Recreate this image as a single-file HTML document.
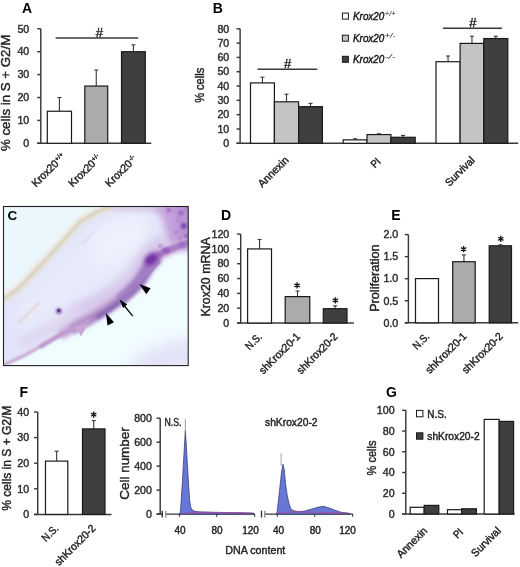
<!DOCTYPE html>
<html><head><meta charset="utf-8"><style>
html,body{margin:0;padding:0;background:#fff;}
body{width:520px;height:567px;overflow:hidden;}
svg{display:block;font-family:"Liberation Sans", sans-serif;will-change:transform;}
</style></head><body>
<svg width="520" height="567" viewBox="0 0 520 567">
<rect width="520" height="567" fill="#fff"/>
<text x="21.90" y="13.30" font-size="14" text-anchor="start" font-weight="bold" font-style="normal" fill="#000">A</text>
<line x1="40.80" y1="28.80" x2="40.80" y2="143.30" stroke="#383838" stroke-width="1.45"/>
<line x1="37.20" y1="143.30" x2="40.80" y2="143.30" stroke="#383838" stroke-width="1.45"/>
<text x="29.30" y="147.05" font-size="10.5" text-anchor="end" font-weight="normal" font-style="normal" fill="#2a2a2a" textLength="5.95" lengthAdjust="spacingAndGlyphs" stroke="#2a2a2a" stroke-width="0.4">0</text>
<line x1="37.20" y1="120.40" x2="40.80" y2="120.40" stroke="#383838" stroke-width="1.45"/>
<text x="29.30" y="124.15" font-size="10.5" text-anchor="end" font-weight="normal" font-style="normal" fill="#2a2a2a" textLength="11.90" lengthAdjust="spacingAndGlyphs" stroke="#2a2a2a" stroke-width="0.4">10</text>
<line x1="37.20" y1="97.50" x2="40.80" y2="97.50" stroke="#383838" stroke-width="1.45"/>
<text x="29.30" y="101.25" font-size="10.5" text-anchor="end" font-weight="normal" font-style="normal" fill="#2a2a2a" textLength="11.90" lengthAdjust="spacingAndGlyphs" stroke="#2a2a2a" stroke-width="0.4">20</text>
<line x1="37.20" y1="74.60" x2="40.80" y2="74.60" stroke="#383838" stroke-width="1.45"/>
<text x="29.30" y="78.35" font-size="10.5" text-anchor="end" font-weight="normal" font-style="normal" fill="#2a2a2a" textLength="11.90" lengthAdjust="spacingAndGlyphs" stroke="#2a2a2a" stroke-width="0.4">30</text>
<line x1="37.20" y1="51.70" x2="40.80" y2="51.70" stroke="#383838" stroke-width="1.45"/>
<text x="29.30" y="55.45" font-size="10.5" text-anchor="end" font-weight="normal" font-style="normal" fill="#2a2a2a" textLength="11.90" lengthAdjust="spacingAndGlyphs" stroke="#2a2a2a" stroke-width="0.4">40</text>
<line x1="37.20" y1="28.80" x2="40.80" y2="28.80" stroke="#383838" stroke-width="1.45"/>
<text x="29.30" y="32.55" font-size="10.5" text-anchor="end" font-weight="normal" font-style="normal" fill="#2a2a2a" textLength="11.90" lengthAdjust="spacingAndGlyphs" stroke="#2a2a2a" stroke-width="0.4">50</text>
<line x1="37.20" y1="143.30" x2="151.30" y2="143.30" stroke="#383838" stroke-width="1.45"/>
<line x1="59.40" y1="111.24" x2="59.40" y2="97.50" stroke="#383838" stroke-width="1.1"/>
<line x1="57.40" y1="97.50" x2="61.40" y2="97.50" stroke="#383838" stroke-width="1.1"/>
<rect x="47.30" y="111.24" width="24.20" height="32.06" fill="#ffffff" stroke="#1a1a1a" stroke-width="1.2"/>
<line x1="96.25" y1="86.05" x2="96.25" y2="70.02" stroke="#383838" stroke-width="1.1"/>
<line x1="94.25" y1="70.02" x2="98.25" y2="70.02" stroke="#383838" stroke-width="1.1"/>
<rect x="84.80" y="86.05" width="22.90" height="57.25" fill="#ababab" stroke="#1a1a1a" stroke-width="1.2"/>
<line x1="133.40" y1="51.70" x2="133.40" y2="44.83" stroke="#383838" stroke-width="1.1"/>
<line x1="131.40" y1="44.83" x2="135.40" y2="44.83" stroke="#383838" stroke-width="1.1"/>
<rect x="121.50" y="51.70" width="23.80" height="91.60" fill="#3f3f3f" stroke="#1a1a1a" stroke-width="1.2"/>
<line x1="55.60" y1="38.00" x2="138.20" y2="38.00" stroke="#383838" stroke-width="1.4"/>
<text x="99.30" y="37.00" font-size="13" text-anchor="middle" font-weight="normal" font-style="normal" fill="#1a1a1a" stroke="#1a1a1a" stroke-width="0.4">#</text>
<text transform="translate(9.90,92.90) rotate(-90)" font-size="13" text-anchor="middle" font-weight="normal" font-style="normal" fill="#222" textLength="116.3" lengthAdjust="spacingAndGlyphs" stroke="#222" stroke-width="0.4">% cells in S + G2/M</text>
<g transform="translate(36.00,187.60) rotate(-45)" stroke="#222" stroke-width="0.4"><text x="0" y="0" font-size="10.8" fill="#222" textLength="32.9" lengthAdjust="spacingAndGlyphs">Krox20</text><text x="33.4" y="-3.6" font-size="6.4" fill="#222">+/+</text></g>
<g transform="translate(72.80,187.60) rotate(-45)" stroke="#222" stroke-width="0.4"><text x="0" y="0" font-size="10.8" fill="#222" textLength="32.9" lengthAdjust="spacingAndGlyphs">Krox20</text><text x="33.4" y="-3.6" font-size="6.4" fill="#222">+/-</text></g>
<g transform="translate(109.60,187.60) rotate(-45)" stroke="#222" stroke-width="0.4"><text x="0" y="0" font-size="10.8" fill="#222" textLength="32.9" lengthAdjust="spacingAndGlyphs">Krox20</text><text x="33.4" y="-3.6" font-size="6.4" fill="#222">-/-</text></g>
<text x="212.80" y="13.00" font-size="14" text-anchor="start" font-weight="bold" font-style="normal" fill="#000">B</text>
<line x1="240.10" y1="28.80" x2="240.10" y2="143.30" stroke="#383838" stroke-width="1.45"/>
<line x1="236.50" y1="143.30" x2="240.10" y2="143.30" stroke="#383838" stroke-width="1.45"/>
<text x="229.30" y="147.05" font-size="10.5" text-anchor="end" font-weight="normal" font-style="normal" fill="#2a2a2a" textLength="5.95" lengthAdjust="spacingAndGlyphs" stroke="#2a2a2a" stroke-width="0.4">0</text>
<line x1="236.50" y1="128.99" x2="240.10" y2="128.99" stroke="#383838" stroke-width="1.45"/>
<text x="229.30" y="132.74" font-size="10.5" text-anchor="end" font-weight="normal" font-style="normal" fill="#2a2a2a" textLength="11.90" lengthAdjust="spacingAndGlyphs" stroke="#2a2a2a" stroke-width="0.4">10</text>
<line x1="236.50" y1="114.68" x2="240.10" y2="114.68" stroke="#383838" stroke-width="1.45"/>
<text x="229.30" y="118.43" font-size="10.5" text-anchor="end" font-weight="normal" font-style="normal" fill="#2a2a2a" textLength="11.90" lengthAdjust="spacingAndGlyphs" stroke="#2a2a2a" stroke-width="0.4">20</text>
<line x1="236.50" y1="100.36" x2="240.10" y2="100.36" stroke="#383838" stroke-width="1.45"/>
<text x="229.30" y="104.11" font-size="10.5" text-anchor="end" font-weight="normal" font-style="normal" fill="#2a2a2a" textLength="11.90" lengthAdjust="spacingAndGlyphs" stroke="#2a2a2a" stroke-width="0.4">30</text>
<line x1="236.50" y1="86.05" x2="240.10" y2="86.05" stroke="#383838" stroke-width="1.45"/>
<text x="229.30" y="89.80" font-size="10.5" text-anchor="end" font-weight="normal" font-style="normal" fill="#2a2a2a" textLength="11.90" lengthAdjust="spacingAndGlyphs" stroke="#2a2a2a" stroke-width="0.4">40</text>
<line x1="236.50" y1="71.74" x2="240.10" y2="71.74" stroke="#383838" stroke-width="1.45"/>
<text x="229.30" y="75.49" font-size="10.5" text-anchor="end" font-weight="normal" font-style="normal" fill="#2a2a2a" textLength="11.90" lengthAdjust="spacingAndGlyphs" stroke="#2a2a2a" stroke-width="0.4">50</text>
<line x1="236.50" y1="57.42" x2="240.10" y2="57.42" stroke="#383838" stroke-width="1.45"/>
<text x="229.30" y="61.17" font-size="10.5" text-anchor="end" font-weight="normal" font-style="normal" fill="#2a2a2a" textLength="11.90" lengthAdjust="spacingAndGlyphs" stroke="#2a2a2a" stroke-width="0.4">60</text>
<line x1="236.50" y1="43.11" x2="240.10" y2="43.11" stroke="#383838" stroke-width="1.45"/>
<text x="229.30" y="46.86" font-size="10.5" text-anchor="end" font-weight="normal" font-style="normal" fill="#2a2a2a" textLength="11.90" lengthAdjust="spacingAndGlyphs" stroke="#2a2a2a" stroke-width="0.4">70</text>
<line x1="236.50" y1="28.80" x2="240.10" y2="28.80" stroke="#383838" stroke-width="1.45"/>
<text x="229.30" y="32.55" font-size="10.5" text-anchor="end" font-weight="normal" font-style="normal" fill="#2a2a2a" textLength="11.90" lengthAdjust="spacingAndGlyphs" stroke="#2a2a2a" stroke-width="0.4">80</text>
<line x1="236.50" y1="143.30" x2="518.20" y2="143.30" stroke="#383838" stroke-width="1.45"/>
<line x1="262.45" y1="82.90" x2="262.45" y2="77.18" stroke="#383838" stroke-width="1.1"/>
<line x1="260.45" y1="77.18" x2="264.45" y2="77.18" stroke="#383838" stroke-width="1.1"/>
<line x1="286.50" y1="101.79" x2="286.50" y2="94.21" stroke="#383838" stroke-width="1.1"/>
<line x1="284.50" y1="94.21" x2="288.50" y2="94.21" stroke="#383838" stroke-width="1.1"/>
<line x1="310.50" y1="106.66" x2="310.50" y2="103.37" stroke="#383838" stroke-width="1.1"/>
<line x1="308.50" y1="103.37" x2="312.50" y2="103.37" stroke="#383838" stroke-width="1.1"/>
<rect x="250.50" y="82.90" width="23.90" height="60.40" fill="#ffffff" stroke="#1a1a1a" stroke-width="1.2"/>
<rect x="274.40" y="101.79" width="24.20" height="41.51" fill="#c4c4c4" stroke="#1a1a1a" stroke-width="1.2"/>
<rect x="298.60" y="106.66" width="23.80" height="36.64" fill="#3f3f3f" stroke="#1a1a1a" stroke-width="1.2"/>
<line x1="355.10" y1="139.87" x2="355.10" y2="138.72" stroke="#383838" stroke-width="1.1"/>
<line x1="353.10" y1="138.72" x2="357.10" y2="138.72" stroke="#383838" stroke-width="1.1"/>
<line x1="378.95" y1="134.57" x2="378.95" y2="133.85" stroke="#383838" stroke-width="1.1"/>
<line x1="376.95" y1="133.85" x2="380.95" y2="133.85" stroke="#383838" stroke-width="1.1"/>
<line x1="403.05" y1="137.29" x2="403.05" y2="135.43" stroke="#383838" stroke-width="1.1"/>
<line x1="401.05" y1="135.43" x2="405.05" y2="135.43" stroke="#383838" stroke-width="1.1"/>
<rect x="343.20" y="139.87" width="23.80" height="3.44" fill="#ffffff" stroke="#1a1a1a" stroke-width="1.2"/>
<rect x="367.00" y="134.57" width="23.90" height="8.73" fill="#c4c4c4" stroke="#1a1a1a" stroke-width="1.2"/>
<rect x="390.90" y="137.29" width="24.30" height="6.01" fill="#3f3f3f" stroke="#1a1a1a" stroke-width="1.2"/>
<line x1="448.05" y1="61.72" x2="448.05" y2="55.99" stroke="#383838" stroke-width="1.1"/>
<line x1="446.05" y1="55.99" x2="450.05" y2="55.99" stroke="#383838" stroke-width="1.1"/>
<line x1="471.95" y1="43.40" x2="471.95" y2="36.24" stroke="#383838" stroke-width="1.1"/>
<line x1="469.95" y1="36.24" x2="473.95" y2="36.24" stroke="#383838" stroke-width="1.1"/>
<line x1="495.80" y1="38.53" x2="495.80" y2="36.24" stroke="#383838" stroke-width="1.1"/>
<line x1="493.80" y1="36.24" x2="497.80" y2="36.24" stroke="#383838" stroke-width="1.1"/>
<rect x="436.00" y="61.72" width="24.10" height="81.58" fill="#ffffff" stroke="#1a1a1a" stroke-width="1.2"/>
<rect x="460.10" y="43.40" width="23.70" height="99.90" fill="#c4c4c4" stroke="#1a1a1a" stroke-width="1.2"/>
<rect x="483.80" y="38.53" width="24.00" height="104.77" fill="#3f3f3f" stroke="#1a1a1a" stroke-width="1.2"/>
<line x1="257.60" y1="69.30" x2="317.30" y2="69.30" stroke="#383838" stroke-width="1.4"/>
<text x="287.60" y="67.60" font-size="13" text-anchor="middle" font-weight="normal" font-style="normal" fill="#1a1a1a" stroke="#1a1a1a" stroke-width="0.4">#</text>
<line x1="443.00" y1="28.20" x2="502.00" y2="28.20" stroke="#383838" stroke-width="1.4"/>
<text x="472.80" y="26.70" font-size="13" text-anchor="middle" font-weight="normal" font-style="normal" fill="#1a1a1a" stroke="#1a1a1a" stroke-width="0.4">#</text>
<text transform="translate(204.20,85.30) rotate(-90)" font-size="13" text-anchor="middle" font-weight="normal" font-style="normal" fill="#222" textLength="35" lengthAdjust="spacingAndGlyphs" stroke="#222" stroke-width="0.4">% cells</text>
<text transform="translate(289.30,160.80) rotate(-45)" font-size="10.8" text-anchor="end" font-weight="normal" font-style="normal" fill="#222" textLength="38.3" lengthAdjust="spacingAndGlyphs" stroke="#222" stroke-width="0.4">Annexin</text>
<text transform="translate(381.30,162.30) rotate(-45)" font-size="10.8" text-anchor="end" font-weight="normal" font-style="normal" fill="#222" textLength="8.9" lengthAdjust="spacingAndGlyphs" stroke="#222" stroke-width="0.4">PI</text>
<text transform="translate(475.30,161.00) rotate(-45)" font-size="10.8" text-anchor="end" font-weight="normal" font-style="normal" fill="#222" textLength="36.6" lengthAdjust="spacingAndGlyphs" stroke="#222" stroke-width="0.4">Survival</text>
<rect x="342.4" y="13.10" width="6" height="6" fill="#ffffff" stroke="#1a1a1a" stroke-width="1"/>
<text x="353.00" y="20.00" font-size="11" text-anchor="start" font-weight="normal" font-style="italic" fill="#111" textLength="31.3" lengthAdjust="spacingAndGlyphs" stroke="#111" stroke-width="0.4">Krox20</text>
<text x="384.8" y="16.00" font-size="7" font-style="italic" fill="#222" textLength="10.8" lengthAdjust="spacingAndGlyphs">+/+</text>
<rect x="342.4" y="35.20" width="6" height="6" fill="#c4c4c4" stroke="#1a1a1a" stroke-width="1"/>
<text x="353.00" y="42.10" font-size="11" text-anchor="start" font-weight="normal" font-style="italic" fill="#111" textLength="31.3" lengthAdjust="spacingAndGlyphs" stroke="#111" stroke-width="0.4">Krox20</text>
<text x="384.8" y="38.10" font-size="7" font-style="italic" fill="#222" textLength="10.8" lengthAdjust="spacingAndGlyphs">+/-</text>
<rect x="342.4" y="56.30" width="6" height="6" fill="#3f3f3f" stroke="#1a1a1a" stroke-width="1"/>
<text x="353.00" y="63.20" font-size="11" text-anchor="start" font-weight="normal" font-style="italic" fill="#111" textLength="31.3" lengthAdjust="spacingAndGlyphs" stroke="#111" stroke-width="0.4">Krox20</text>
<text x="384.8" y="59.20" font-size="7" font-style="italic" fill="#222" textLength="10.8" lengthAdjust="spacingAndGlyphs">-/-</text>
<g>
<defs>
<clipPath id="cclip"><rect x="3.5" y="206.5" width="184.7" height="159.1"/></clipPath>
<filter id="b05" x="-20%" y="-20%" width="140%" height="140%"><feGaussianBlur stdDeviation="0.6"/></filter>
<filter id="b1" x="-20%" y="-20%" width="140%" height="140%"><feGaussianBlur stdDeviation="1.1"/></filter>
<filter id="b2" x="-20%" y="-20%" width="140%" height="140%"><feGaussianBlur stdDeviation="2"/></filter>
<filter id="b3" x="-30%" y="-30%" width="160%" height="160%"><feGaussianBlur stdDeviation="3.5"/></filter>
<filter id="b6" x="-40%" y="-40%" width="180%" height="180%"><feGaussianBlur stdDeviation="7"/></filter>
</defs>
<g clip-path="url(#cclip)">
<rect x="0" y="200" width="195" height="170" fill="#f1fcff"/>
<!-- upper-left exterior light cyan -->
<path d="M -10 200 L 130 200 C 110 210, 95 214, 80 222 C 60 245, 40 266, 18 289 L -10 310 Z" fill="#eaf7fd" filter="url(#b2)"/>
<!-- band interior (periwinkle) -->
<path d="M -10 306 L 18 290 C 40 267, 60 246, 80 223 C 95 215, 110 209, 130 205 L 160 204 C 165 225, 168 238, 165 248 C 150 255, 145 275, 135 288 C 115 303, 95 314, 76 324 C 58 335, 40 349, 25 358 L -10 370 Z" fill="#e2e5f9" filter="url(#b1)"/>
<!-- lighter core of interior -->
<path d="M 20 300 C 50 270, 80 240, 110 222 C 125 214, 140 212, 150 216 C 150 240, 130 262, 100 285 C 70 305, 40 322, 15 330 Z" fill="#e9ebfb" filter="url(#b6)"/>
<ellipse cx="118" cy="240" rx="32" ry="20" transform="rotate(-35 118 240)" fill="#eef0fc" filter="url(#b6)"/>
<!-- pinkish zone above purple band -->
<path d="M 70 316 C 80 311, 98 302, 112 293 C 128 284, 136 274, 144 260 C 150 250, 156 245, 166 241" fill="none" stroke="#d8cbec" stroke-width="16" filter="url(#b3)"/>
<path d="M 20 345 C 35 337, 50 329, 62 322 C 70 318, 76 315, 82 312" fill="none" stroke="#dfd6f0" stroke-width="10" filter="url(#b3)"/>
<!-- top strip lavender-pink -->
<path d="M 100 204 L 170 204 L 170 213 L 100 210 Z" fill="#d9cde8" filter="url(#b2)"/>
<!-- top-right purple cells region -->
<path d="M 150 204 L 195 204 L 195 245 C 185 243, 178 246, 170 247 C 170 236, 166 222, 158 212 Z" fill="#cdb0e0" filter="url(#b3)"/>
<path d="M 160 204 L 195 204 L 195 252 C 180 250, 172 245, 168 240 C 166 228, 165 214, 160 204 Z" fill="#c4a1dc" filter="url(#b3)"/>
<path d="M 172 204 L 195 204 L 195 243 L 180 240 C 177 228, 176 215, 172 204 Z" fill="#b894d4" filter="url(#b2)"/>
<!-- purple lower band: outer soft -->
<path d="M 60 336 C 66 331, 70 328, 78 324 C 92 316, 104 309, 114 302 C 126 294, 135 287, 142 276 C 147 266, 150 260, 158 255 C 168 250, 178 246, 195 240" fill="none" stroke="#cdb3dc" stroke-width="11" filter="url(#b2)"/>
<!-- mid band -->
<path d="M 70 328 C 85 320, 100 312, 112 303 C 125 294, 134 287, 141 277 C 146 268, 150 261, 158 256" fill="none" stroke="#a886c4" stroke-width="9" transform="translate(1.5,2)" filter="url(#b2)"/>
<path d="M 95 315 C 105 309, 115 302, 124 295 C 132 289, 138 283, 142 276" fill="none" stroke="#8c6eb2" stroke-width="4.5" transform="translate(1.5,2.5)" filter="url(#b1)"/>
<!-- lower-left pink part -->
<path d="M 2 366 C 20 358, 35 350, 50 341 C 62 334, 76 327, 90 321" fill="none" stroke="#c9aad3" stroke-width="3.2" filter="url(#b1)"/>
<path d="M 40 347 C 48 342, 56 337, 62 334 C 72 329, 80 325, 90 321" fill="none" stroke="#bf9ace" stroke-width="4" filter="url(#b1)"/>
<path d="M 74 327 C 78 331, 80 334, 81 336.5 L 88 324 Z" fill="#c8a8d4" filter="url(#b05)"/>
<path d="M 118 298 C 128 290, 136 282, 142 272 C 146 265, 149 261, 153 258" fill="none" stroke="#a07ec2" stroke-width="10" transform="translate(1.5,2)" filter="url(#b2)"/>
<!-- right part band -->
<path d="M 158 255 C 168 250, 178 246, 195 240" fill="none" stroke="#a97ec8" stroke-width="6" filter="url(#b1)"/>
<!-- dark blob -->
<ellipse cx="152" cy="259" rx="9" ry="6" fill="#8a4cb0" filter="url(#b2)" transform="rotate(-35 152 259)"/>
<ellipse cx="151" cy="259.5" rx="5.5" ry="3.5" fill="#7436a2" filter="url(#b1)" transform="rotate(-35 151 259.5)"/>
<ellipse cx="166" cy="250.5" rx="4" ry="3" fill="#9a60bd" filter="url(#b1)"/>
<ellipse cx="182" cy="245" rx="4" ry="3" fill="#a070c4" filter="url(#b1)"/>
<!-- membrane line -->
<path d="M 160 262 C 151 272, 140 286, 121 300" fill="none" stroke="#8a70b4" stroke-width="0.9" filter="url(#b05)"/>
<!-- cells spots -->
<circle cx="183.7" cy="226" r="3" fill="#8048b4" filter="url(#b1)"/>
<circle cx="178" cy="220" r="2.2" fill="#b48ad2" filter="url(#b1)"/>
<circle cx="174" cy="212" r="2" fill="#b996d6" filter="url(#b1)"/>
<circle cx="186" cy="208" r="2.2" fill="#a77ccb" filter="url(#b1)"/>
<circle cx="180" cy="238" r="2.2" fill="#b088d0" filter="url(#b1)"/>
<circle cx="168.7" cy="210" r="2.5" fill="#a274c8" filter="url(#b1)"/>
<circle cx="181" cy="213" r="2.5" fill="#9a66c2" filter="url(#b1)"/>
<circle cx="186" cy="236" r="2.2" fill="#9a66c2" filter="url(#b1)"/>
<circle cx="176" cy="232" r="2" fill="#ad82cd" filter="url(#b1)"/>
<circle cx="160" cy="246" r="2" fill="#b28ad0" filter="url(#b1)"/>
<!-- tan streak -->
<path d="M 0 302 C 8 296, 14 292, 20 287 C 40 266, 60 245, 80 222 C 92 214, 100 210, 112 206" fill="none" stroke="#f4f6f6" stroke-width="4" transform="translate(-3,-2.5)" filter="url(#b1)"/>
<path d="M 0 302 C 8 296, 14 292, 20 287 C 40 266, 60 245, 80 222 C 92 214, 100 210, 112 206" fill="none" stroke="#e6e2da" stroke-width="8" filter="url(#b2)"/>
<path d="M 0 302 C 8 296, 14 292, 20 287 C 40 266, 60 245, 80 222 C 92 214, 100 210, 112 206" fill="none" stroke="#d8cebd" stroke-width="2.6" filter="url(#b1)"/>
<path d="M 18 323 C 26 316, 33 309, 40 302" fill="none" stroke="#ddd3cf" stroke-width="2.2" filter="url(#b1)"/>
<path d="M 82 244 C 86 240, 90 236, 94 232" fill="none" stroke="#dcd6dc" stroke-width="1.6" filter="url(#b1)"/>
<!-- small spot -->
<circle cx="58.8" cy="311" r="3.2" fill="#9a80c0" filter="url(#b1)"/>
<circle cx="58.8" cy="310.5" r="1.8" fill="#5e3e8a" filter="url(#b05)"/>
<!-- bottom-right haze -->
<ellipse cx="172" cy="358" rx="45" ry="16" transform="rotate(-15 172 358)" fill="#e4e3f7" filter="url(#b6)"/>
</g>
<rect x="3.5" y="206.5" width="184.7" height="159.1" fill="none" stroke="#222" stroke-width="1.1"/>
<!-- arrowheads -->
<path d="M 139.3 283.9 L 150.6 288.2 L 146.3 294.2 Z" fill="#000"/>
<path d="M 105.9 313.0 L 114.0 322.2 L 107.5 325.4 Z" fill="#000"/>
<!-- arrow -->
<line x1="132.8" y1="316.2" x2="122" y2="303" stroke="#000" stroke-width="1.3"/>
<path d="M 119.4 299.5 L 127.2 304.2 L 123.2 308.0 Z" fill="#000"/>
</g>
<text x="7.50" y="219.80" font-size="13.5" text-anchor="start" font-weight="bold" font-style="normal" fill="#000">C</text>
<text x="220.90" y="219.70" font-size="14" text-anchor="start" font-weight="bold" font-style="normal" fill="#000">D</text>
<line x1="240.70" y1="234.10" x2="240.70" y2="323.00" stroke="#383838" stroke-width="1.45"/>
<line x1="237.10" y1="323.00" x2="240.70" y2="323.00" stroke="#383838" stroke-width="1.45"/>
<text x="229.30" y="326.75" font-size="10.5" text-anchor="end" font-weight="normal" font-style="normal" fill="#2a2a2a" textLength="5.95" lengthAdjust="spacingAndGlyphs" stroke="#2a2a2a" stroke-width="0.4">0</text>
<line x1="237.10" y1="308.18" x2="240.70" y2="308.18" stroke="#383838" stroke-width="1.45"/>
<text x="229.30" y="311.93" font-size="10.5" text-anchor="end" font-weight="normal" font-style="normal" fill="#2a2a2a" textLength="11.90" lengthAdjust="spacingAndGlyphs" stroke="#2a2a2a" stroke-width="0.4">20</text>
<line x1="237.10" y1="293.37" x2="240.70" y2="293.37" stroke="#383838" stroke-width="1.45"/>
<text x="229.30" y="297.12" font-size="10.5" text-anchor="end" font-weight="normal" font-style="normal" fill="#2a2a2a" textLength="11.90" lengthAdjust="spacingAndGlyphs" stroke="#2a2a2a" stroke-width="0.4">40</text>
<line x1="237.10" y1="278.55" x2="240.70" y2="278.55" stroke="#383838" stroke-width="1.45"/>
<text x="229.30" y="282.30" font-size="10.5" text-anchor="end" font-weight="normal" font-style="normal" fill="#2a2a2a" textLength="11.90" lengthAdjust="spacingAndGlyphs" stroke="#2a2a2a" stroke-width="0.4">60</text>
<line x1="237.10" y1="263.73" x2="240.70" y2="263.73" stroke="#383838" stroke-width="1.45"/>
<text x="229.30" y="267.48" font-size="10.5" text-anchor="end" font-weight="normal" font-style="normal" fill="#2a2a2a" textLength="11.90" lengthAdjust="spacingAndGlyphs" stroke="#2a2a2a" stroke-width="0.4">80</text>
<line x1="237.10" y1="248.92" x2="240.70" y2="248.92" stroke="#383838" stroke-width="1.45"/>
<text x="229.30" y="252.67" font-size="10.5" text-anchor="end" font-weight="normal" font-style="normal" fill="#2a2a2a" textLength="17.85" lengthAdjust="spacingAndGlyphs" stroke="#2a2a2a" stroke-width="0.4">100</text>
<line x1="237.10" y1="234.10" x2="240.70" y2="234.10" stroke="#383838" stroke-width="1.45"/>
<text x="229.30" y="237.85" font-size="10.5" text-anchor="end" font-weight="normal" font-style="normal" fill="#2a2a2a" textLength="17.85" lengthAdjust="spacingAndGlyphs" stroke="#2a2a2a" stroke-width="0.4">120</text>
<line x1="237.10" y1="323.00" x2="353.90" y2="323.00" stroke="#383838" stroke-width="1.45"/>
<line x1="259.55" y1="248.92" x2="259.55" y2="239.50" stroke="#383838" stroke-width="1.1"/>
<line x1="257.55" y1="239.50" x2="261.55" y2="239.50" stroke="#383838" stroke-width="1.1"/>
<rect x="247.60" y="248.92" width="23.90" height="74.08" fill="#ffffff" stroke="#1a1a1a" stroke-width="1.2"/>
<line x1="297.50" y1="296.60" x2="297.50" y2="291.00" stroke="#383838" stroke-width="1.1"/>
<line x1="295.50" y1="291.00" x2="299.50" y2="291.00" stroke="#383838" stroke-width="1.1"/>
<rect x="285.20" y="296.60" width="24.60" height="26.40" fill="#ababab" stroke="#1a1a1a" stroke-width="1.2"/>
<line x1="335.15" y1="308.70" x2="335.15" y2="305.80" stroke="#383838" stroke-width="1.1"/>
<line x1="333.15" y1="305.80" x2="337.15" y2="305.80" stroke="#383838" stroke-width="1.1"/>
<rect x="323.30" y="308.70" width="23.70" height="14.30" fill="#3f3f3f" stroke="#1a1a1a" stroke-width="1.2"/>
<path d="M 297.10 288.50 L 297.10 282.30 M 294.42 286.95 L 299.78 283.85 M 294.42 283.85 L 299.78 286.95 " stroke="#1a1a1a" stroke-width="1.35" fill="none"/>
<path d="M 335.40 303.50 L 335.40 297.30 M 332.72 301.95 L 338.08 298.85 M 332.72 298.85 L 338.08 301.95 " stroke="#1a1a1a" stroke-width="1.35" fill="none"/>
<text transform="translate(210.40,276.90) rotate(-90)" font-size="12.5" text-anchor="middle" font-weight="normal" font-style="normal" fill="#222" textLength="79.3" lengthAdjust="spacingAndGlyphs" stroke="#222" stroke-width="0.4">Krox20 mRNA</text>
<text transform="translate(262.70,337.30) rotate(-45)" font-size="10.8" text-anchor="end" font-weight="normal" font-style="normal" fill="#222" textLength="18.6" lengthAdjust="spacingAndGlyphs" stroke="#222" stroke-width="0.4">N.S.</text>
<text transform="translate(300.70,337.30) rotate(-45)" font-size="10.8" text-anchor="end" font-weight="normal" font-style="normal" fill="#222" textLength="52.8" lengthAdjust="spacingAndGlyphs" stroke="#222" stroke-width="0.4">shKrox20-1</text>
<text transform="translate(338.40,337.30) rotate(-45)" font-size="10.8" text-anchor="end" font-weight="normal" font-style="normal" fill="#222" textLength="52.8" lengthAdjust="spacingAndGlyphs" stroke="#222" stroke-width="0.4">shKrox20-2</text>
<text x="391.20" y="219.90" font-size="14" text-anchor="start" font-weight="bold" font-style="normal" fill="#000">E</text>
<line x1="408.40" y1="234.60" x2="408.40" y2="322.80" stroke="#383838" stroke-width="1.45"/>
<line x1="404.80" y1="322.80" x2="408.40" y2="322.80" stroke="#383838" stroke-width="1.45"/>
<text x="398.30" y="326.55" font-size="10.5" text-anchor="end" font-weight="normal" font-style="normal" fill="#2a2a2a" textLength="14.90" lengthAdjust="spacingAndGlyphs" stroke="#2a2a2a" stroke-width="0.4">0.0</text>
<line x1="404.80" y1="300.75" x2="408.40" y2="300.75" stroke="#383838" stroke-width="1.45"/>
<text x="398.30" y="304.50" font-size="10.5" text-anchor="end" font-weight="normal" font-style="normal" fill="#2a2a2a" textLength="14.90" lengthAdjust="spacingAndGlyphs" stroke="#2a2a2a" stroke-width="0.4">0.5</text>
<line x1="404.80" y1="278.70" x2="408.40" y2="278.70" stroke="#383838" stroke-width="1.45"/>
<text x="398.30" y="282.45" font-size="10.5" text-anchor="end" font-weight="normal" font-style="normal" fill="#2a2a2a" textLength="14.90" lengthAdjust="spacingAndGlyphs" stroke="#2a2a2a" stroke-width="0.4">1.0</text>
<line x1="404.80" y1="256.65" x2="408.40" y2="256.65" stroke="#383838" stroke-width="1.45"/>
<text x="398.30" y="260.40" font-size="10.5" text-anchor="end" font-weight="normal" font-style="normal" fill="#2a2a2a" textLength="14.90" lengthAdjust="spacingAndGlyphs" stroke="#2a2a2a" stroke-width="0.4">1.5</text>
<line x1="404.80" y1="234.60" x2="408.40" y2="234.60" stroke="#383838" stroke-width="1.45"/>
<text x="398.30" y="238.35" font-size="10.5" text-anchor="end" font-weight="normal" font-style="normal" fill="#2a2a2a" textLength="14.90" lengthAdjust="spacingAndGlyphs" stroke="#2a2a2a" stroke-width="0.4">2.0</text>
<line x1="404.80" y1="322.80" x2="518.20" y2="322.80" stroke="#383838" stroke-width="1.45"/>
<rect x="415.50" y="278.60" width="23.00" height="44.20" fill="#ffffff" stroke="#1a1a1a" stroke-width="1.2"/>
<line x1="463.95" y1="261.70" x2="463.95" y2="254.90" stroke="#383838" stroke-width="1.1"/>
<line x1="461.95" y1="254.90" x2="465.95" y2="254.90" stroke="#383838" stroke-width="1.1"/>
<rect x="452.70" y="261.70" width="22.50" height="61.10" fill="#ababab" stroke="#1a1a1a" stroke-width="1.2"/>
<line x1="500.35" y1="245.80" x2="500.35" y2="244.80" stroke="#383838" stroke-width="1.1"/>
<line x1="498.35" y1="244.80" x2="502.35" y2="244.80" stroke="#383838" stroke-width="1.1"/>
<rect x="489.20" y="245.80" width="22.30" height="77.00" fill="#3f3f3f" stroke="#1a1a1a" stroke-width="1.2"/>
<path d="M 463.60 252.20 L 463.60 246.00 M 460.92 250.65 L 466.28 247.55 M 460.92 247.55 L 466.28 250.65 " stroke="#1a1a1a" stroke-width="1.35" fill="none"/>
<path d="M 500.80 241.90 L 500.80 235.70 M 498.12 240.35 L 503.48 237.25 M 498.12 237.25 L 503.48 240.35 " stroke="#1a1a1a" stroke-width="1.35" fill="none"/>
<text transform="translate(379.00,278.10) rotate(-90)" font-size="12.5" text-anchor="middle" font-weight="normal" font-style="normal" fill="#222" textLength="67.5" lengthAdjust="spacingAndGlyphs" stroke="#222" stroke-width="0.4">Proliferation</text>
<text transform="translate(430.20,337.00) rotate(-45)" font-size="10.8" text-anchor="end" font-weight="normal" font-style="normal" fill="#222" textLength="18.6" lengthAdjust="spacingAndGlyphs" stroke="#222" stroke-width="0.4">N.S.</text>
<text transform="translate(467.20,337.00) rotate(-45)" font-size="10.8" text-anchor="end" font-weight="normal" font-style="normal" fill="#222" textLength="52.8" lengthAdjust="spacingAndGlyphs" stroke="#222" stroke-width="0.4">shKrox20-1</text>
<text transform="translate(503.50,337.00) rotate(-45)" font-size="10.8" text-anchor="end" font-weight="normal" font-style="normal" fill="#222" textLength="52.8" lengthAdjust="spacingAndGlyphs" stroke="#222" stroke-width="0.4">shKrox20-2</text>
<text x="19.50" y="396.60" font-size="14" text-anchor="start" font-weight="bold" font-style="normal" fill="#000">F</text>
<line x1="37.70" y1="412.00" x2="37.70" y2="514.40" stroke="#383838" stroke-width="1.45"/>
<line x1="34.10" y1="514.40" x2="37.70" y2="514.40" stroke="#383838" stroke-width="1.45"/>
<text x="29.20" y="518.15" font-size="10.5" text-anchor="end" font-weight="normal" font-style="normal" fill="#2a2a2a" textLength="5.95" lengthAdjust="spacingAndGlyphs" stroke="#2a2a2a" stroke-width="0.4">0</text>
<line x1="34.10" y1="488.80" x2="37.70" y2="488.80" stroke="#383838" stroke-width="1.45"/>
<text x="29.20" y="492.55" font-size="10.5" text-anchor="end" font-weight="normal" font-style="normal" fill="#2a2a2a" textLength="11.90" lengthAdjust="spacingAndGlyphs" stroke="#2a2a2a" stroke-width="0.4">10</text>
<line x1="34.10" y1="463.20" x2="37.70" y2="463.20" stroke="#383838" stroke-width="1.45"/>
<text x="29.20" y="466.95" font-size="10.5" text-anchor="end" font-weight="normal" font-style="normal" fill="#2a2a2a" textLength="11.90" lengthAdjust="spacingAndGlyphs" stroke="#2a2a2a" stroke-width="0.4">20</text>
<line x1="34.10" y1="437.60" x2="37.70" y2="437.60" stroke="#383838" stroke-width="1.45"/>
<text x="29.20" y="441.35" font-size="10.5" text-anchor="end" font-weight="normal" font-style="normal" fill="#2a2a2a" textLength="11.90" lengthAdjust="spacingAndGlyphs" stroke="#2a2a2a" stroke-width="0.4">30</text>
<line x1="34.10" y1="412.00" x2="37.70" y2="412.00" stroke="#383838" stroke-width="1.45"/>
<text x="29.20" y="415.75" font-size="10.5" text-anchor="end" font-weight="normal" font-style="normal" fill="#2a2a2a" textLength="11.90" lengthAdjust="spacingAndGlyphs" stroke="#2a2a2a" stroke-width="0.4">40</text>
<line x1="34.10" y1="514.40" x2="111.50" y2="514.40" stroke="#383838" stroke-width="1.45"/>
<line x1="56.65" y1="461.10" x2="56.65" y2="451.20" stroke="#383838" stroke-width="1.1"/>
<line x1="54.65" y1="451.20" x2="58.65" y2="451.20" stroke="#383838" stroke-width="1.1"/>
<rect x="45.50" y="461.10" width="22.30" height="53.30" fill="#ffffff" stroke="#1a1a1a" stroke-width="1.2"/>
<line x1="93.75" y1="428.90" x2="93.75" y2="420.60" stroke="#383838" stroke-width="1.1"/>
<line x1="91.75" y1="420.60" x2="95.75" y2="420.60" stroke="#383838" stroke-width="1.1"/>
<rect x="82.50" y="428.90" width="22.50" height="85.50" fill="#3f3f3f" stroke="#1a1a1a" stroke-width="1.2"/>
<path d="M 93.70 417.80 L 93.70 411.60 M 91.02 416.25 L 96.38 413.15 M 91.02 413.15 L 96.38 416.25 " stroke="#1a1a1a" stroke-width="1.35" fill="none"/>
<text transform="translate(10.90,458.20) rotate(-90)" font-size="12.3" text-anchor="middle" font-weight="normal" font-style="normal" fill="#222" textLength="105" lengthAdjust="spacingAndGlyphs" stroke="#222" stroke-width="0.4">% cells in S + G2/M</text>
<text transform="translate(59.20,529.00) rotate(-45)" font-size="10.8" text-anchor="end" font-weight="normal" font-style="normal" fill="#222" textLength="18.6" lengthAdjust="spacingAndGlyphs" stroke="#222" stroke-width="0.4">N.S.</text>
<text transform="translate(96.35,529.00) rotate(-45)" font-size="10.8" text-anchor="end" font-weight="normal" font-style="normal" fill="#222" textLength="52.8" lengthAdjust="spacingAndGlyphs" stroke="#222" stroke-width="0.4">shKrox20-2</text>
<line x1="160.20" y1="418.20" x2="160.20" y2="514.10" stroke="#383838" stroke-width="1.45"/>
<line x1="156.60" y1="514.10" x2="160.20" y2="514.10" stroke="#383838" stroke-width="1.45"/>
<text x="152.00" y="517.85" font-size="10.5" text-anchor="end" font-weight="normal" font-style="normal" fill="#2a2a2a" textLength="5.95" lengthAdjust="spacingAndGlyphs" stroke="#2a2a2a" stroke-width="0.4">0</text>
<line x1="156.60" y1="490.12" x2="160.20" y2="490.12" stroke="#383838" stroke-width="1.45"/>
<text x="152.00" y="493.88" font-size="10.5" text-anchor="end" font-weight="normal" font-style="normal" fill="#2a2a2a" textLength="17.85" lengthAdjust="spacingAndGlyphs" stroke="#2a2a2a" stroke-width="0.4">200</text>
<line x1="156.60" y1="466.15" x2="160.20" y2="466.15" stroke="#383838" stroke-width="1.45"/>
<text x="152.00" y="469.90" font-size="10.5" text-anchor="end" font-weight="normal" font-style="normal" fill="#2a2a2a" textLength="17.85" lengthAdjust="spacingAndGlyphs" stroke="#2a2a2a" stroke-width="0.4">400</text>
<line x1="156.60" y1="442.18" x2="160.20" y2="442.18" stroke="#383838" stroke-width="1.45"/>
<text x="152.00" y="445.93" font-size="10.5" text-anchor="end" font-weight="normal" font-style="normal" fill="#2a2a2a" textLength="17.85" lengthAdjust="spacingAndGlyphs" stroke="#2a2a2a" stroke-width="0.4">600</text>
<line x1="156.60" y1="418.20" x2="160.20" y2="418.20" stroke="#383838" stroke-width="1.45"/>
<text x="152.00" y="421.95" font-size="10.5" text-anchor="end" font-weight="normal" font-style="normal" fill="#2a2a2a" textLength="17.85" lengthAdjust="spacingAndGlyphs" stroke="#2a2a2a" stroke-width="0.4">800</text>
<line x1="156.60" y1="514.10" x2="162.30" y2="514.10" stroke="#383838" stroke-width="1.45"/>
<line x1="165.80" y1="514.10" x2="254.60" y2="514.10" stroke="#383838" stroke-width="1.45"/>
<line x1="264.80" y1="514.10" x2="352.80" y2="514.10" stroke="#383838" stroke-width="1.45"/>
<line x1="162.30" y1="510.70" x2="162.30" y2="517.50" stroke="#2a2a2a" stroke-width="1.3"/>
<line x1="165.80" y1="510.70" x2="165.80" y2="517.50" stroke="#8a8a8a" stroke-width="1.3"/>
<line x1="261.50" y1="510.70" x2="261.50" y2="517.50" stroke="#2a2a2a" stroke-width="1.3"/>
<line x1="264.80" y1="510.70" x2="264.80" y2="517.50" stroke="#8a8a8a" stroke-width="1.3"/>
<line x1="179.40" y1="514.10" x2="179.40" y2="516.70" stroke="#383838" stroke-width="1.1"/>
<line x1="216.70" y1="514.10" x2="216.70" y2="516.70" stroke="#383838" stroke-width="1.1"/>
<line x1="254.60" y1="514.10" x2="254.60" y2="516.70" stroke="#383838" stroke-width="1.1"/>
<line x1="277.30" y1="514.10" x2="277.30" y2="516.70" stroke="#383838" stroke-width="1.1"/>
<line x1="314.70" y1="514.10" x2="314.70" y2="516.70" stroke="#383838" stroke-width="1.1"/>
<line x1="352.60" y1="514.10" x2="352.60" y2="516.70" stroke="#383838" stroke-width="1.1"/>
<text x="180.00" y="534.30" font-size="10" text-anchor="middle" font-weight="normal" font-style="normal" fill="#222" stroke="#222" stroke-width="0.4">40</text>
<text x="217.00" y="534.30" font-size="10" text-anchor="middle" font-weight="normal" font-style="normal" fill="#222" stroke="#222" stroke-width="0.4">80</text>
<text x="250.50" y="534.30" font-size="10" text-anchor="middle" font-weight="normal" font-style="normal" fill="#222" stroke="#222" stroke-width="0.4">120</text>
<text x="278.50" y="534.30" font-size="10" text-anchor="middle" font-weight="normal" font-style="normal" fill="#222" stroke="#222" stroke-width="0.4">40</text>
<text x="315.30" y="534.30" font-size="10" text-anchor="middle" font-weight="normal" font-style="normal" fill="#222" stroke="#222" stroke-width="0.4">80</text>
<text x="347.60" y="534.30" font-size="10" text-anchor="middle" font-weight="normal" font-style="normal" fill="#222" stroke="#222" stroke-width="0.4">120</text>
<text x="164.50" y="426.30" font-size="10.5" text-anchor="start" font-weight="normal" font-style="normal" fill="#222" textLength="17" lengthAdjust="spacingAndGlyphs" stroke="#222" stroke-width="0.4">N.S.</text>
<text x="265.00" y="426.30" font-size="10.5" text-anchor="start" font-weight="normal" font-style="normal" fill="#222" textLength="52.6" lengthAdjust="spacingAndGlyphs" stroke="#222" stroke-width="0.4">shKrox20-2</text>
<text x="225.30" y="554.20" font-size="11" text-anchor="start" font-weight="normal" font-style="normal" fill="#222" textLength="60" lengthAdjust="spacingAndGlyphs" stroke="#222" stroke-width="0.4">DNA content</text>
<text transform="translate(128.90,463.50) rotate(-90)" font-size="13" text-anchor="middle" font-weight="normal" font-style="normal" fill="#222" textLength="72.5" lengthAdjust="spacingAndGlyphs" stroke="#222" stroke-width="0.4">Cell number</text>
<path d="M 179.8 514 L 180.5 510.5 L 182.5 480 L 185.3 430.5 L 186.3 445 L 188.2 478 L 189.6 500 L 190.8 507.5 L 193 510.8 L 198 511.8 L 215 512.4 L 240 512.8 L 254 513.2 L 254 514 Z" fill="#6877d6" stroke="#2b3070" stroke-width="0.7" stroke-linejoin="round"/>
<path d="M 276.5 514 L 277.3 510.5 L 279.6 490 L 281.5 472 L 283 464.2 L 284.3 470 L 285.6 484 L 287 494 L 288.6 502 L 290.6 508.3 L 293 510.6 L 298 511.6 L 304 511.2 L 310 509.6 L 316 507.8 L 320 506.8 L 323 506.3 L 326 507 L 330 508.3 L 335 510.2 L 340 512 L 346 513 L 350 513.5 L 350 514 Z" fill="#6877d6" stroke="#2b3070" stroke-width="0.7" stroke-linejoin="round"/>
<line x1="185.40" y1="433.00" x2="185.40" y2="419.20" stroke="#8a8a8a" stroke-width="0.9"/>
<line x1="281.10" y1="466.00" x2="281.10" y2="453.10" stroke="#9a9a9a" stroke-width="0.9"/>
<path d="M 183 513 L 195 512.2 L 230 512.6 L 252 513" fill="none" stroke="#b04aa0" stroke-width="1.1" opacity="0.8"/>
<path d="M 279 513 L 292 511.8 L 305 512 L 330 512.6 L 348 513" fill="none" stroke="#b04aa0" stroke-width="1.1" opacity="0.8"/>
<text x="386.00" y="396.80" font-size="14" text-anchor="start" font-weight="bold" font-style="normal" fill="#000">G</text>
<line x1="405.80" y1="410.30" x2="405.80" y2="514.00" stroke="#383838" stroke-width="1.45"/>
<line x1="402.20" y1="514.00" x2="405.80" y2="514.00" stroke="#383838" stroke-width="1.45"/>
<text x="394.70" y="517.75" font-size="10.5" text-anchor="end" font-weight="normal" font-style="normal" fill="#2a2a2a" textLength="5.95" lengthAdjust="spacingAndGlyphs" stroke="#2a2a2a" stroke-width="0.4">0</text>
<line x1="402.20" y1="493.26" x2="405.80" y2="493.26" stroke="#383838" stroke-width="1.45"/>
<text x="394.70" y="497.01" font-size="10.5" text-anchor="end" font-weight="normal" font-style="normal" fill="#2a2a2a" textLength="11.90" lengthAdjust="spacingAndGlyphs" stroke="#2a2a2a" stroke-width="0.4">20</text>
<line x1="402.20" y1="472.52" x2="405.80" y2="472.52" stroke="#383838" stroke-width="1.45"/>
<text x="394.70" y="476.27" font-size="10.5" text-anchor="end" font-weight="normal" font-style="normal" fill="#2a2a2a" textLength="11.90" lengthAdjust="spacingAndGlyphs" stroke="#2a2a2a" stroke-width="0.4">40</text>
<line x1="402.20" y1="451.78" x2="405.80" y2="451.78" stroke="#383838" stroke-width="1.45"/>
<text x="394.70" y="455.53" font-size="10.5" text-anchor="end" font-weight="normal" font-style="normal" fill="#2a2a2a" textLength="11.90" lengthAdjust="spacingAndGlyphs" stroke="#2a2a2a" stroke-width="0.4">60</text>
<line x1="402.20" y1="431.04" x2="405.80" y2="431.04" stroke="#383838" stroke-width="1.45"/>
<text x="394.70" y="434.79" font-size="10.5" text-anchor="end" font-weight="normal" font-style="normal" fill="#2a2a2a" textLength="11.90" lengthAdjust="spacingAndGlyphs" stroke="#2a2a2a" stroke-width="0.4">80</text>
<line x1="402.20" y1="410.30" x2="405.80" y2="410.30" stroke="#383838" stroke-width="1.45"/>
<text x="394.70" y="414.05" font-size="10.5" text-anchor="end" font-weight="normal" font-style="normal" fill="#2a2a2a" textLength="17.85" lengthAdjust="spacingAndGlyphs" stroke="#2a2a2a" stroke-width="0.4">100</text>
<line x1="402.20" y1="514.00" x2="514.60" y2="514.00" stroke="#383838" stroke-width="1.45"/>
<rect x="410.20" y="507.30" width="14.00" height="6.70" fill="#ffffff" stroke="#1a1a1a" stroke-width="1.2"/>
<rect x="424.20" y="505.40" width="14.60" height="8.60" fill="#3f3f3f" stroke="#1a1a1a" stroke-width="1.2"/>
<rect x="447.50" y="509.70" width="14.10" height="4.30" fill="#ffffff" stroke="#1a1a1a" stroke-width="1.2"/>
<rect x="461.60" y="508.80" width="14.80" height="5.20" fill="#3f3f3f" stroke="#1a1a1a" stroke-width="1.2"/>
<rect x="484.20" y="419.40" width="15.00" height="94.60" fill="#ffffff" stroke="#1a1a1a" stroke-width="1.2"/>
<rect x="499.20" y="421.40" width="14.40" height="92.60" fill="#3f3f3f" stroke="#1a1a1a" stroke-width="1.2"/>
<text transform="translate(376.40,458.00) rotate(-90)" font-size="13" text-anchor="middle" font-weight="normal" font-style="normal" fill="#222" textLength="34.8" lengthAdjust="spacingAndGlyphs" stroke="#222" stroke-width="0.4">% cells</text>
<rect x="416.5" y="410.4" width="6.4" height="6.4" fill="#ffffff" stroke="#1a1a1a" stroke-width="1"/>
<rect x="416.5" y="432.8" width="6.4" height="6.4" fill="#3f3f3f" stroke="#1a1a1a" stroke-width="1"/>
<text x="427.30" y="417.50" font-size="10" text-anchor="start" font-weight="normal" font-style="normal" fill="#222" stroke="#222" stroke-width="0.4">N.S.</text>
<text x="427.30" y="439.50" font-size="10" text-anchor="start" font-weight="normal" font-style="normal" fill="#222" textLength="52.3" lengthAdjust="spacingAndGlyphs" stroke="#222" stroke-width="0.4">shKrox20-2</text>
<text transform="translate(428.00,531.50) rotate(-45)" font-size="10.8" text-anchor="end" font-weight="normal" font-style="normal" fill="#222" textLength="38.3" lengthAdjust="spacingAndGlyphs" stroke="#222" stroke-width="0.4">Annexin</text>
<text transform="translate(463.80,532.80) rotate(-45)" font-size="10.8" text-anchor="end" font-weight="normal" font-style="normal" fill="#222" textLength="8.9" lengthAdjust="spacingAndGlyphs" stroke="#222" stroke-width="0.4">PI</text>
<text transform="translate(501.50,531.50) rotate(-45)" font-size="10.8" text-anchor="end" font-weight="normal" font-style="normal" fill="#222" textLength="36.6" lengthAdjust="spacingAndGlyphs" stroke="#222" stroke-width="0.4">Survival</text>
</svg>
</body></html>
